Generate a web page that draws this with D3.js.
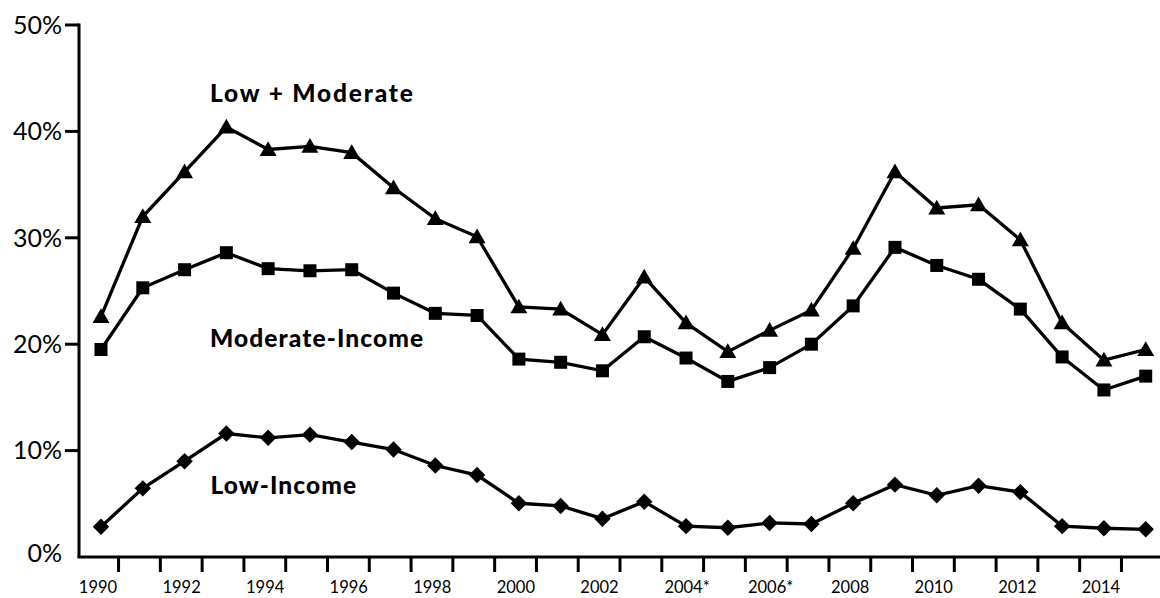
<!DOCTYPE html>
<html>
<head>
<meta charset="utf-8">
<script src="https://cdn.jsdelivr.net/npm/d3@7"></script>
<style>
  html, body { margin: 0; padding: 0; background: #fff; }
  svg { display: block; }
</style>
</head>
<body>
<svg id="chart" width="1160" height="598"></svg>
<script>
// ---- Data ----
const years = d3.range(1990, 2016);
const lowModerate = [22.6, 32.0, 36.2, 40.4, 38.3, 38.6, 38.0, 34.7, 31.8, 30.1, 23.5, 23.3, 20.9, 26.3, 22.0, 19.3, 21.3, 23.2, 29.0, 36.2, 32.8, 33.1, 29.8, 22.0, 18.5, 19.5];
const moderateIncome = [19.5, 25.3, 27.0, 28.6, 27.1, 26.9, 27.0, 24.8, 22.9, 22.7, 18.6, 18.3, 17.5, 20.7, 18.7, 16.5, 17.8, 20.0, 23.6, 29.1, 27.4, 26.1, 23.3, 18.8, 15.7, 17.0];
const lowIncome = [2.85, 6.45, 9.0, 11.6, 11.2, 11.5, 10.8, 10.1, 8.6, 7.7, 5.05, 4.8, 3.6, 5.2, 2.9, 2.75, 3.2, 3.1, 5.05, 6.8, 5.8, 6.7, 6.1, 2.9, 2.7, 2.6];
const yTicks = [0, 10, 20, 30, 40, 50];
const xTickLabels = ["1990", "1992", "1994", "1996", "1998", "2000", "2002", "2004*", "2006*", "2008", "2010", "2012", "2014"];
const seriesNames = ["Low + Moderate", "Moderate-Income", "Low-Income"];

// ---- Layout ----
const svg = d3.select("#chart");
const axisX = 79, axisY = 557;
const x = d3.scaleLinear().domain([1990, 2015]).range([101, 1145.7]);
const y = d3.scaleLinear().domain([0, 50]).range([557, 25]);
const FONT = "Lato, 'Open Sans', sans-serif";

// Y axis
svg.append("line").attr("x1", axisX).attr("x2", axisX).attr("y1", y(50) - 1.5).attr("y2", axisY)
  .attr("stroke", "#000").attr("stroke-width", 3);
// X axis
svg.append("line").attr("x1", axisX - 1.5).attr("x2", 1160).attr("y1", axisY).attr("y2", axisY)
  .attr("stroke", "#000").attr("stroke-width", 3);

// Y ticks + labels
yTicks.forEach(v => {
  if (v > 0) {
    svg.append("line").attr("x1", 65).attr("x2", axisX).attr("y1", y(v)).attr("y2", y(v))
      .attr("stroke", "#000").attr("stroke-width", 3);
  }
  svg.append("text").attr("x", 62).attr("y", y(v) + (v === 0 ? -4 : 0)).attr("dy", "0.35em")
    .attr("text-anchor", "end").attr("font-family", FONT).attr("font-size", 25).attr("fill", "#000")
    .text(v + "%");
});

// X ticks (between categories)
years.slice(0, -1).forEach(yr => {
  svg.append("line").attr("x1", x(yr + 0.42)).attr("x2", x(yr + 0.42)).attr("y1", axisY).attr("y2", 572)
    .attr("stroke", "#000").attr("stroke-width", 3);
});
xTickLabels.forEach(lbl => {
  const yr = parseInt(lbl, 10);
  const star = lbl.endsWith("*");
  svg.append("text").attr("x", x(yr) - 3 + (star ? 4 : 0)).attr("y", 593)
    .attr("text-anchor", "middle").attr("font-family", FONT).attr("font-size", 16.5).attr("fill", "#000")
    .text(lbl);
});

// Lines + markers
const line = d3.line().x((d, i) => x(years[i])).y(d => y(d));
const series = [
  { values: lowModerate, symbol: d3.symbolTriangle, size: 125, rotate: 0, dy: 1.5 },
  { values: moderateIncome, symbol: d3.symbolSquare, size: 169, rotate: 0, dy: 0 },
  { values: lowIncome, symbol: d3.symbolSquare, size: 135, rotate: 45, dy: 0 }
];
series.forEach(s => {
  svg.append("path").datum(s.values).attr("d", line)
    .attr("fill", "none").attr("stroke", "#000").attr("stroke-width", 3.3).attr("stroke-linejoin", "miter");
  svg.append("g").selectAll("path").data(s.values).join("path")
    .attr("d", d3.symbol().type(s.symbol).size(s.size))
    .attr("transform", (d, i) => `translate(${x(years[i])},${y(d) + s.dy}) rotate(${s.rotate})`)
    .attr("fill", "#000");
});

// Series labels
const labelPos = [
  { x: 210, y: 101.7, w: 203 },
  { x: 210, y: 346.7, w: 213 },
  { x: 210.5, y: 494.3, w: 145.5 }
];
seriesNames.forEach((name, i) => {
  const t = svg.append("text").attr("x", labelPos[i].x).attr("y", labelPos[i].y)
    .attr("font-family", FONT).attr("font-weight", 900).attr("font-size", 24.5).attr("fill", "#000")
    .text(name);
  const w = t.node().getComputedTextLength();
  const n = name.length;
  const ls = (labelPos[i].w - w) / (n - 1);
  t.attr("letter-spacing", ls.toFixed(2));
});
</script>
</body>
</html>
